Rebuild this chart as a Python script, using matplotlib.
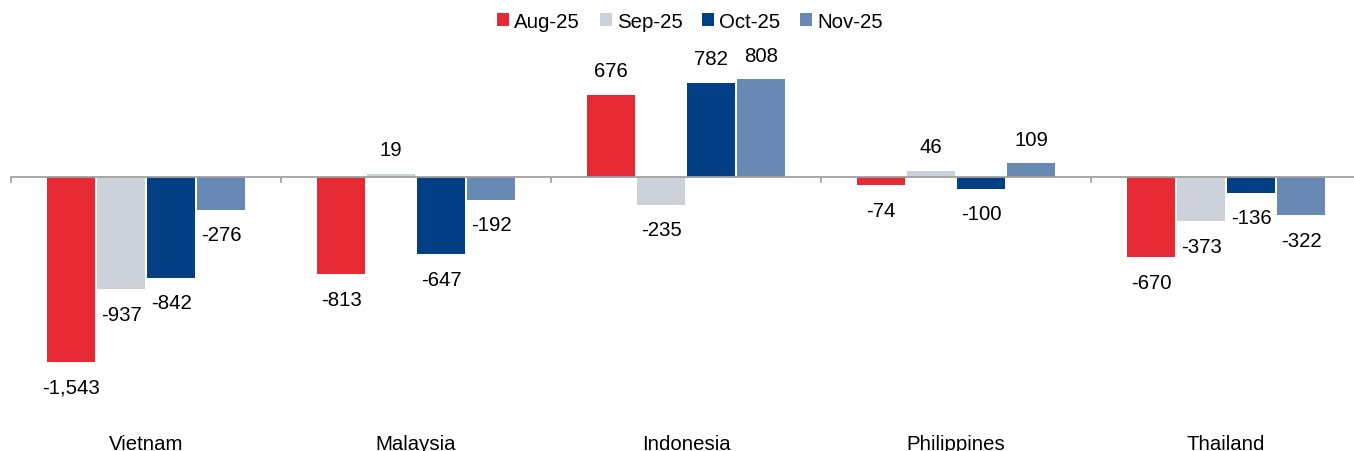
import matplotlib
matplotlib.use("Agg")
import matplotlib.pyplot as plt
import matplotlib.transforms as mtransforms
import numpy as np

plt.rcParams['font.family'] = ['Liberation Sans', 'DejaVu Sans']

categories = ["Vietnam", "Malaysia", "Indonesia", "Philippines", "Thailand"]
series_names = ["Aug-25", "Sep-25", "Oct-25", "Nov-25"]
aug = [-1543, -813, 676, -74, -670]
sep = [-937, 19, -235, 46, -373]
octo = [-842, -647, 782, -100, -136]
nov = [-276, -192, 808, 109, -322]
series = [aug, sep, octo, nov]
colors = ["#E52A33", "#CDD2DA", "#033F84", "#6889B4"]

FS = 14.7
W, H = 1354, 452
fig = plt.figure(figsize=(W / 100, H / 100), dpi=100)
left_px, right_px = 11, 1361
top_px, bot_px = 40, 452
ax = fig.add_axes([left_px / W, 1 - bot_px / H, (right_px - left_px) / W, (bot_px - top_px) / H])

zero_px = 177.5
scale = 0.1202  # px per unit
ymax = (zero_px - top_px) / scale
ymin = -(bot_px - zero_px) / scale
ax.set_ylim(ymin, ymax)
ax.set_xlim(-0.5, len(categories) - 0.5)

x = np.arange(len(categories))
slot = 50 / 270
bw = 48 / 270
for j, (name, vals, c) in enumerate(zip(series_names, series, colors)):
    xs = x + (j - 1.5) * slot
    ax.bar(xs, vals, width=bw, color=c, label=name, edgecolor='none', zorder=2)
    for xi, v in zip(xs, vals):
        off = 17.5 if v >= 0 else -18
        ax.annotate(f"{v:,}", (xi, v), xytext=(0, off), textcoords='offset points',
                    ha='center', va='center', fontsize=FS, color='black')

for s in ['top', 'right', 'left']:
    ax.spines[s].set_visible(False)
ax.spines['bottom'].set_position(('data', 0))
ax.spines['bottom'].set_color('#A0A0A0')
ax.spines['bottom'].set_linewidth(1.3)
ax.spines['bottom'].set_zorder(3)
ax.set_yticks([])
ax.set_xticks(np.arange(-0.5, len(categories) + 0.5, 1.0))
ax.set_xticklabels([])
ax.tick_params(axis='x', direction='out', length=4, width=1.2, color='#A0A0A0')

trans = mtransforms.blended_transform_factory(ax.transData, ax.transAxes)
label_y = (bot_px - 445) / (bot_px - top_px)
for xi, cat in zip(x, categories):
    ax.text(xi, label_y, cat, transform=trans, ha='center', va='center', fontsize=FS, color='black')

fig.legend(loc='center', bbox_to_anchor=(690 / W, 1 - 22 / H), ncol=4, frameon=False,
           fontsize=FS, handlelength=0.6, handleheight=0.6, handletextpad=0.25,
           columnspacing=0.95, borderaxespad=0)

fig.savefig("out.png", dpi=100)
